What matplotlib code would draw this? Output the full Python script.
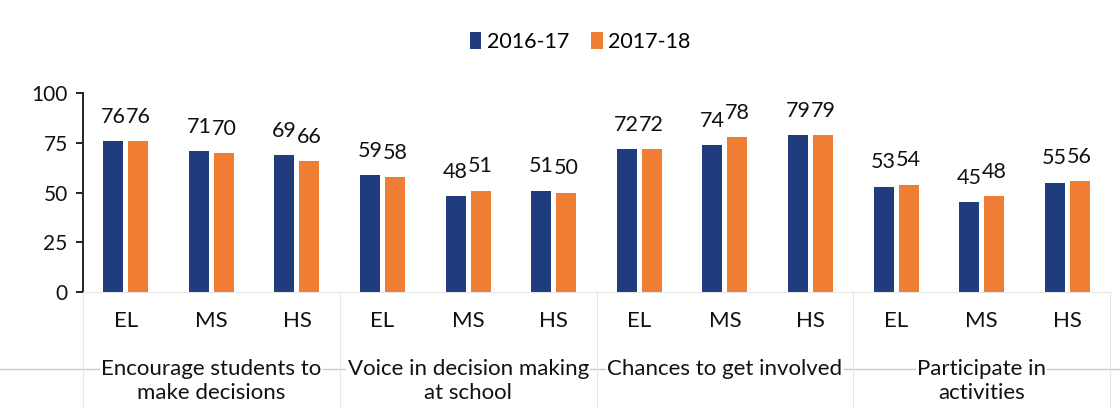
import numpy as np
import matplotlib
matplotlib.use('Agg')
import matplotlib.pyplot as plt
from matplotlib.lines import Line2D

plt.rcParams['font.family'] = ['Lato', 'DejaVu Sans']

levels = ['EL', 'MS', 'HS'] * 4
groups = ['Encourage students to\nmake decisions',
          'Voice in decision making\nat school',
          'Chances to get involved',
          'Participate in\nactivities']
series = ['2016-17', '2017-18']
y2016 = [76, 71, 69, 59, 48, 51, 72, 74, 79, 53, 45, 55]
y2017 = [76, 70, 66, 58, 51, 50, 72, 78, 79, 54, 48, 56]
yticks = [0, 25, 50, 75, 100]

blue = '#1f3c7c'
orange = '#ef7d33'

fig = plt.figure(figsize=(11.2, 4.08), dpi=100)
ax = fig.add_axes([83 / 1120, 1 - 292 / 408, (1110 - 83) / 1120, (292 - 93) / 408])

x = np.arange(len(levels))
w = 0.234
off = 0.146
b1 = ax.bar(x - off, y2016, w, color=blue, label=series[0])
b2 = ax.bar(x + off, y2017, w, color=orange, label=series[1])

# value labels sit just above each bar (they run into each other like Excel's)
for bars, vals in ((b1, y2016), (b2, y2017)):
    for r, v in zip(bars, vals):
        ax.annotate(str(v), (r.get_x() + r.get_width() / 2, v), xytext=(0, 13),
                    textcoords='offset points', ha='center', va='baseline',
                    fontsize=15.5, color='#111111')

ax.set_xlim(-0.5, len(levels) - 0.5)
ax.set_ylim(0, 100)
ax.set_yticks(yticks)
ax.tick_params(axis='y', labelsize=15, length=5, width=1.3, pad=6, colors='#111111')
ax.set_xticks(x, levels)
ax.tick_params(axis='x', labelsize=16, length=0, pad=14, colors='#111111')

for s in ('top', 'right'):
    ax.spines[s].set_visible(False)
ax.spines['left'].set_linewidth(1.4)
ax.spines['left'].set_color('#222222')
ax.spines['bottom'].set_color('#e4e4e4')
ax.spines['bottom'].set_linewidth(0.8)

# faint ruling line across the page
fig.add_artist(Line2D([0, 1], [1 - 369 / 408] * 2, color='#c9c6e6', lw=1.0, zorder=0))

# group separators and group names under the level ticks
for k in range(len(groups) + 1):
    gx = -0.5 + 3 * k
    ax.plot([gx, gx], [0, -60], color='#e6e6e6', lw=0.8, clip_on=False, zorder=0)
for k, name in enumerate(groups):
    ax.text(3 * k + 1, -33.5, name, ha='center', va='top', fontsize=16,
            color='#111111', linespacing=1.3,
            bbox=dict(facecolor='white', edgecolor='none', pad=1))

fig.legend(loc='center', bbox_to_anchor=(580 / 1120, 1 - 42 / 408), ncol=2,
           frameon=False, fontsize=15.5, handlelength=0.55, handleheight=0.8,
           handletextpad=0.25, columnspacing=1.0)

fig.savefig('out.png', dpi=100)
